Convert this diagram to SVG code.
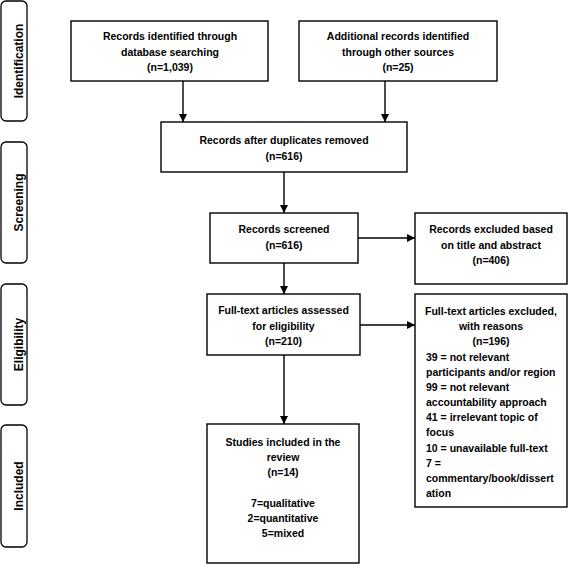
<svg xmlns="http://www.w3.org/2000/svg" width="568" height="566" viewBox="0 0 568 566">
<style>
  .box { fill: #ffffff; stroke: #000000; stroke-width: 1.4; }
  .side { fill: #ffffff; stroke: #000000; stroke-width: 1.3; }
  .t { font-family: "Liberation Sans", Arial, sans-serif; font-weight: bold; font-size: 10.5px; fill: #000000; }
  .c { text-anchor: middle; }
  .s { font-family: "Liberation Sans", Arial, sans-serif; font-weight: bold; font-size: 12px; fill: #000000; text-anchor: middle; }
  .conn { stroke: #000000; stroke-width: 1.4; fill: none; marker-end: url(#arr); }
</style>
<defs>
  <marker id="arr" markerUnits="userSpaceOnUse" markerWidth="8" markerHeight="8" refX="8" refY="4" orient="auto">
    <path d="M0,0 L8,4 L0,8 z" fill="#000000"/>
  </marker>
</defs>
<rect width="568" height="566" fill="#ffffff"/>

<g id="phase-identification">
  <rect class="side" x="1" y="1" width="26" height="120" rx="5"/>
  <text class="s" transform="translate(22.5,61) rotate(-90)">Identification</text>
</g>
<g id="phase-screening">
  <rect class="side" x="1" y="142" width="26" height="121" rx="5"/>
  <text class="s" transform="translate(22.5,202.5) rotate(-90)">Screening</text>
</g>
<g id="phase-eligibility">
  <rect class="side" x="1" y="284" width="26" height="121" rx="5"/>
  <text class="s" transform="translate(22.5,344.5) rotate(-90)">Eligibility</text>
</g>
<g id="phase-included">
  <rect class="side" x="1" y="425" width="26" height="122" rx="5"/>
  <text class="s" transform="translate(22.5,486) rotate(-90)">Included</text>
</g>

<g id="connectors">
  <line class="conn" x1="183" y1="81" x2="183" y2="122"/>
  <line class="conn" x1="385" y1="81" x2="385" y2="122"/>
  <line class="conn" x1="284" y1="172" x2="284" y2="213"/>
  <line class="conn" x1="284" y1="263" x2="284" y2="294"/>
  <line class="conn" x1="358" y1="238" x2="415" y2="238"/>
  <line class="conn" x1="284" y1="355" x2="284" y2="424"/>
  <line class="conn" x1="360" y1="325" x2="415" y2="325"/>
</g>

<g id="db-records">
  <rect class="box" x="71" y="21" width="197" height="60"/>
  <text class="t c" x="170" y="40">Records identified through</text>
  <text class="t c" x="170" y="55.5">database searching</text>
  <text class="t c" x="170" y="71">(n=1,039)</text>
</g>
<g id="other-records">
  <rect class="box" x="299" y="21" width="198" height="60"/>
  <text class="t c" x="398" y="40">Additional records identified</text>
  <text class="t c" x="398" y="55.5">through other sources</text>
  <text class="t c" x="398" y="71">(n=25)</text>
</g>
<g id="deduplicated">
  <rect class="box" x="161" y="122" width="246" height="50"/>
  <text class="t c" x="284" y="144">Records after duplicates removed</text>
  <text class="t c" x="284" y="159.5">(n=616)</text>
</g>
<g id="screened">
  <rect class="box" x="210" y="213" width="148" height="50"/>
  <text class="t c" x="284" y="233">Records screened</text>
  <text class="t c" x="284" y="248.5">(n=616)</text>
</g>
<g id="excluded-title">
  <rect class="box" x="415" y="213" width="152" height="71"/>
  <text class="t c" x="491" y="233">Records excluded based</text>
  <text class="t c" x="491" y="248.5">on title and abstract</text>
  <text class="t c" x="491" y="264">(n=406)</text>
</g>
<g id="fulltext">
  <rect class="box" x="207" y="294" width="153" height="61"/>
  <text class="t c" x="283.5" y="314">Full-text articles assessed</text>
  <text class="t c" x="283.5" y="329.5">for eligibility</text>
  <text class="t c" x="283.5" y="345">(n=210)</text>
</g>
<g id="excluded-fulltext">
  <rect class="box" x="415" y="294" width="152" height="213"/>
  <text class="t c" x="491" y="315">Full-text articles excluded,</text>
  <text class="t c" x="491" y="330">with reasons</text>
  <text class="t c" x="491" y="345">(n=196)</text>
  <text class="t" x="426" y="360.5">39 = not relevant</text>
  <text class="t" x="426" y="375.5">participants and/or region</text>
  <text class="t" x="426" y="390.5">99 = not relevant</text>
  <text class="t" x="426" y="406">accountability approach</text>
  <text class="t" x="426" y="421">41 = irrelevant topic of</text>
  <text class="t" x="426" y="436">focus</text>
  <text class="t" x="426" y="451.5">10 = unavailable full-text</text>
  <text class="t" x="426" y="466.5">7 =</text>
  <text class="t" x="426" y="481.5">commentary/book/dissert</text>
  <text class="t" x="426" y="497">ation</text>
</g>
<g id="included">
  <rect class="box" x="207" y="424" width="152" height="139"/>
  <text class="t c" x="283" y="446">Studies included in the</text>
  <text class="t c" x="283" y="461">review</text>
  <text class="t c" x="283" y="476">(n=14)</text>
  <text class="t c" x="283" y="507">7=qualitative</text>
  <text class="t c" x="283" y="522">2=quantitative</text>
  <text class="t c" x="283" y="537">5=mixed</text>
</g>
</svg>
